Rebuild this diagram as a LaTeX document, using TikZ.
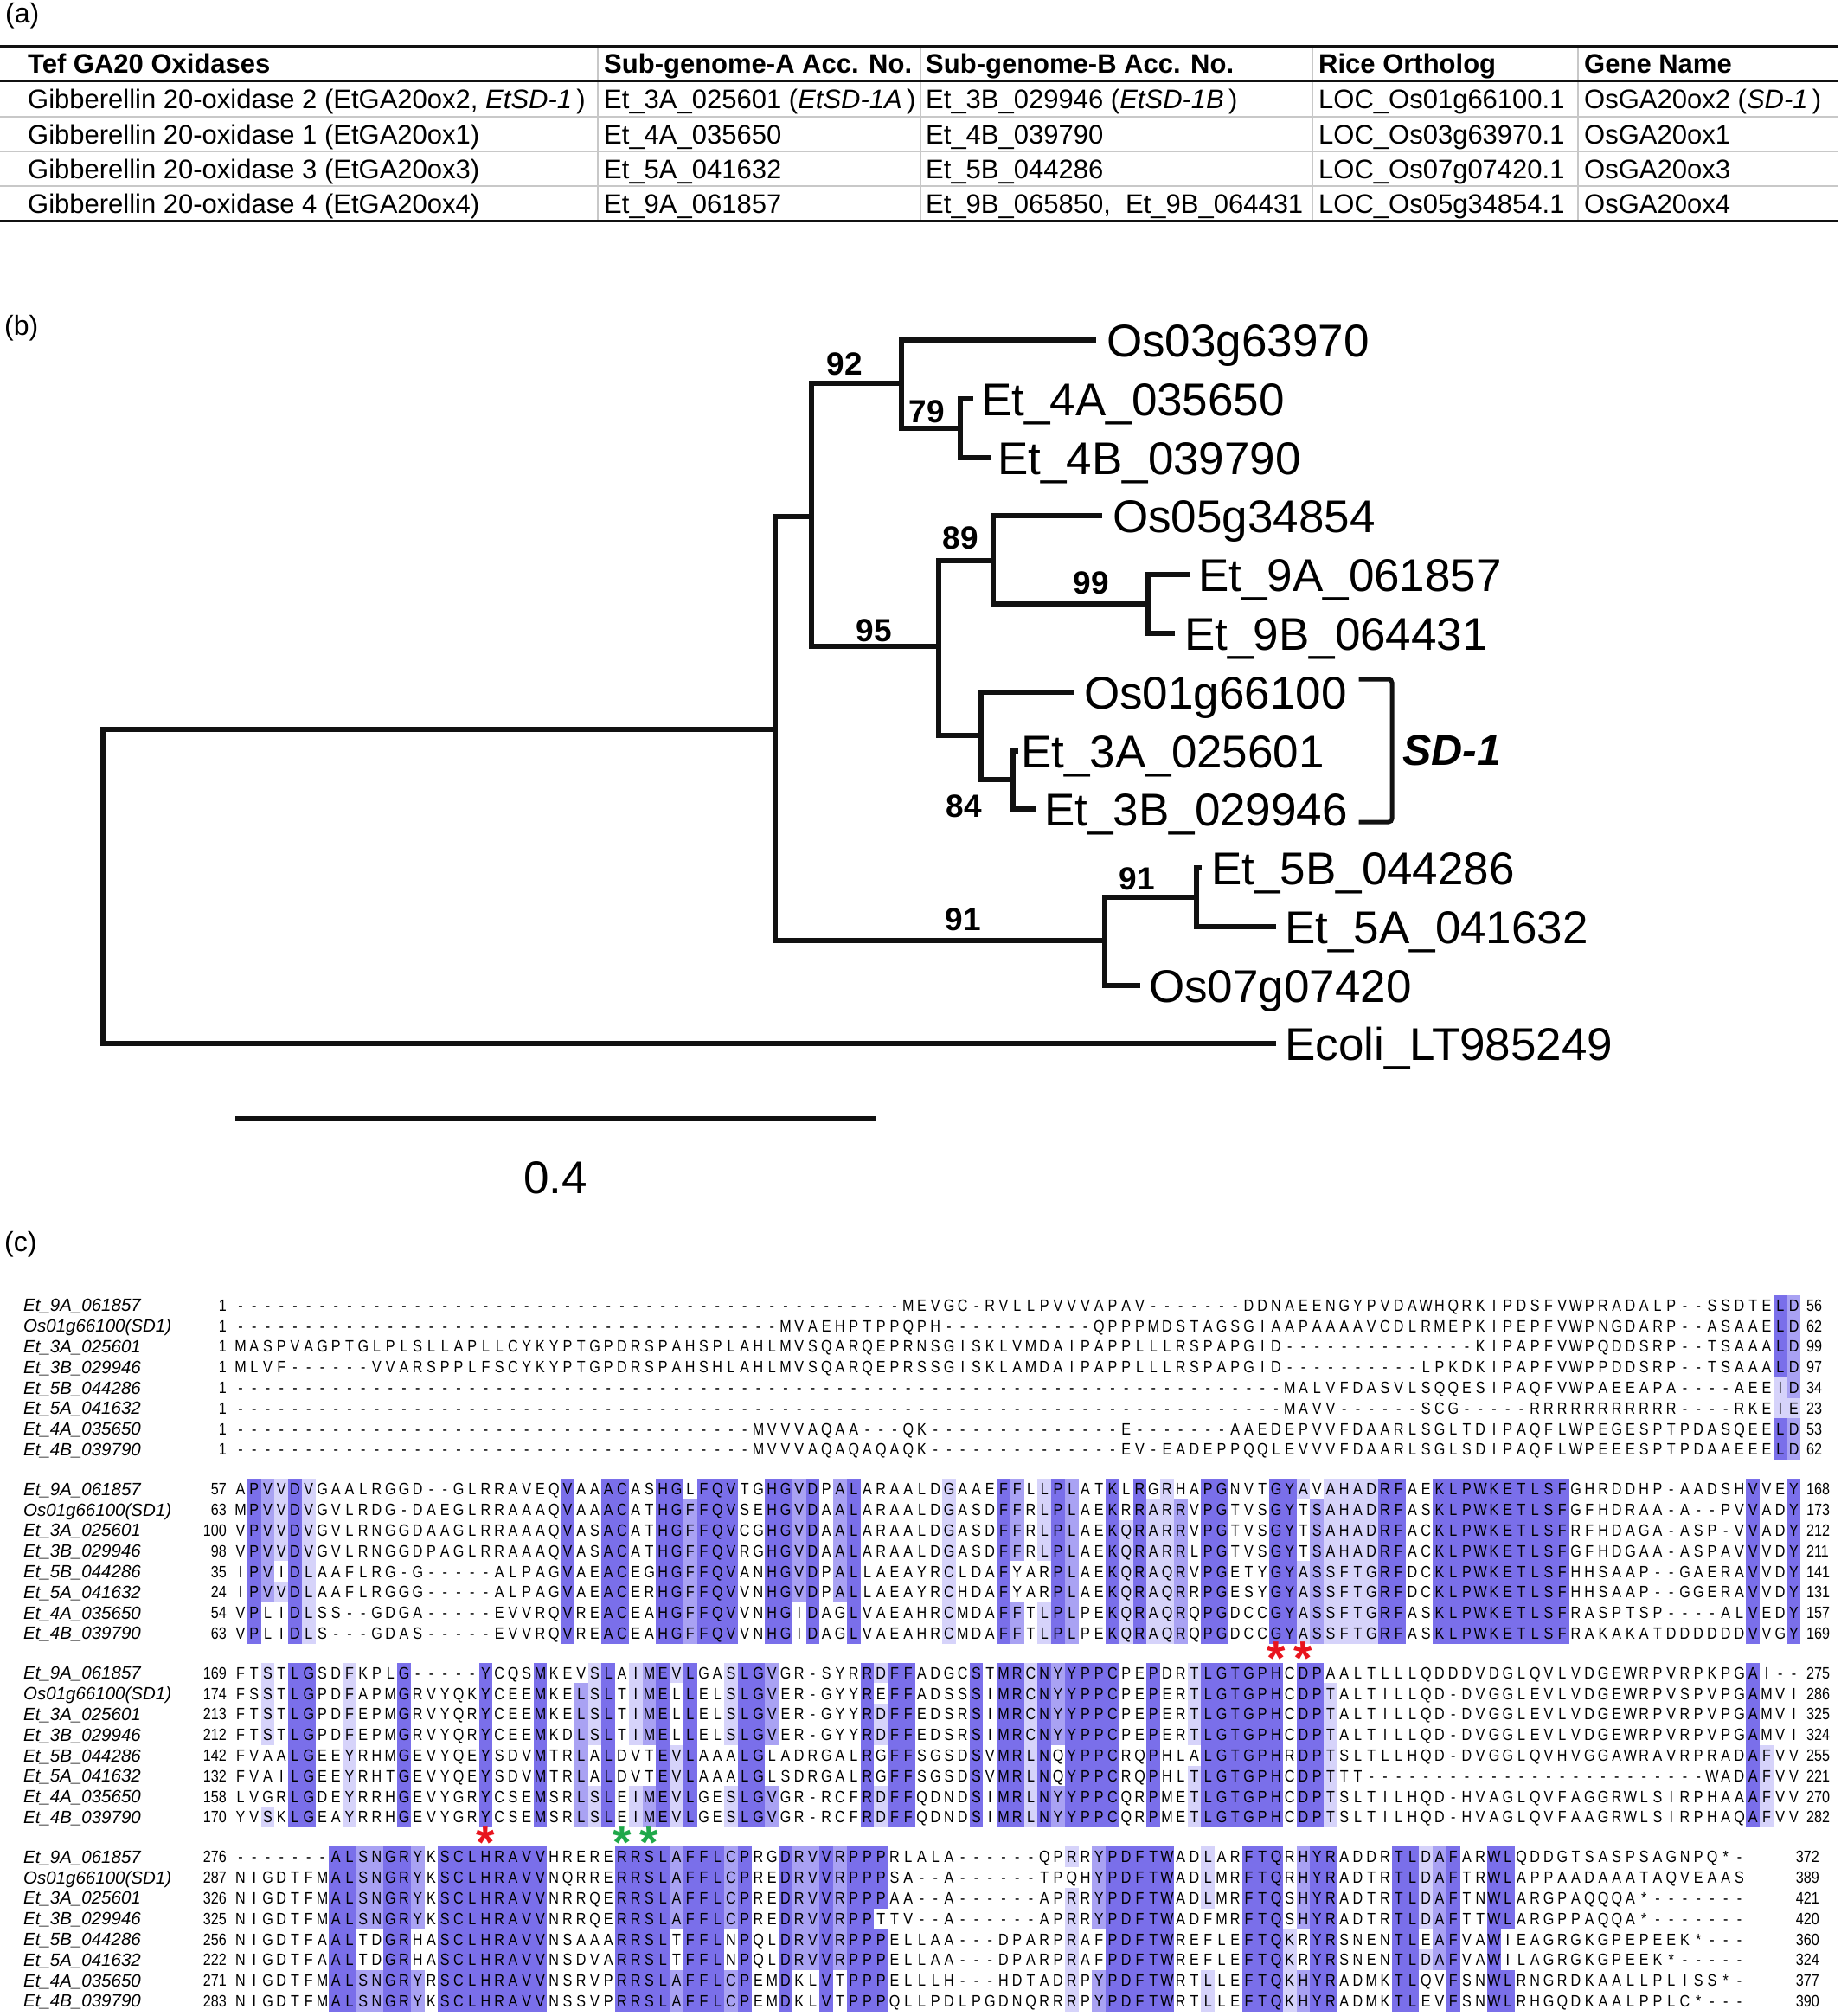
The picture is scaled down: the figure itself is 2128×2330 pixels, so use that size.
\documentclass[tikz,border=0pt]{standalone}
\usepackage{fontspec}
\setmainfont{Liberation Sans}
\newfontfamily\seqfont[FakeStretch=0.85]{Liberation Sans}
\usepackage{xcolor}
\usepackage{tikz}
\usetikzlibrary{positioning}
\definecolor{Ink}{HTML}{111111}
\definecolor{Rule}{HTML}{C8C8C8}
\definecolor{IdDk}{HTML}{7A6FEA}
\definecolor{IdMd}{HTML}{A9A2F3}
\definecolor{IdLt}{HTML}{D6D3FA}
\definecolor{StarRed}{HTML}{E8141E}
\definecolor{StarGreen}{HTML}{1FA84A}

% alignment: one fixed box per residue, shaded when listed below
\newlength\cw
\setlength\cw{15.75pt}
\newcount\colno
\def\gaps#1{\ifnum#1>0 -\expandafter\gaps\expandafter{\the\numexpr#1-1\relax}\fi}
\def\setshade#1#2#3#4{\expandafter\xdef\csname sh-#1-#2-#3\endcsname{#4}}
\def\seqline#1#2{\edef\blk{#1}\edef\seqtmp{#2}\colno=0
  \expandafter\seqloop\seqtmp\relax}
\def\seqloop#1{\ifx#1\relax\else\seqcell#1\expandafter\seqloop\fi}
\def\seqcell#1{\advance\colno by 1
  \ifcsname sh-\blk-\the\colno-#1\endcsname
    \edef\shc{\csname sh-\blk-\the\colno-#1\endcsname}%
    \rlap{\color{\shc}\vrule width\cw height18.7pt depth5.1pt}%
  \fi
  \hbox to\cw{\hss\vrule width0pt height18.7pt depth5.1pt#1\hss}}

% shaded residues: column/residue/colour
\foreach \col/\res/\lev in {114/L/IdDk,114/I/IdLt,115/D/IdMd,115/E/IdLt}
  {\setshade{1}{\col}{\res}{\lev}}
\foreach \col/\res/\lev in {2/P/IdDk,3/V/IdMd,4/V/IdLt,5/D/IdDk,6/V/IdLt,6/L/IdLt,
  25/V/IdDk,28/A/IdDk,29/C/IdDk,32/H/IdDk,33/G/IdDk,34/F/IdMd,35/F/IdDk,36/Q/IdDk,
  37/V/IdDk,40/H/IdDk,41/G/IdDk,42/V/IdMd,43/D/IdDk,45/A/IdMd,46/L/IdDk,53/G/IdLt,
  53/C/IdLt,57/F/IdDk,58/F/IdMd,60/L/IdLt,61/P/IdDk,62/L/IdMd,65/K/IdDk,66/Q/IdLt,
  67/R/IdDk,68/A/IdLt,69/R/IdLt,69/Q/IdLt,70/R/IdMd,72/P/IdDk,73/G/IdDk,77/G/IdDk,
  78/Y/IdDk,79/A/IdLt,80/S/IdMd,81/A/IdLt,81/S/IdLt,82/H/IdLt,82/F/IdLt,83/A/IdLt,
  83/T/IdLt,84/D/IdLt,84/G/IdLt,85/R/IdDk,86/F/IdDk,89/K/IdDk,90/L/IdDk,91/P/IdDk,
  92/W/IdDk,93/K/IdDk,94/E/IdDk,95/T/IdDk,96/L/IdDk,97/S/IdDk,98/F/IdDk,112/V/IdDk,
  115/Y/IdDk}
  {\setshade{2}{\col}{\res}{\lev}}
\foreach \col/\res/\lev in {3/S/IdLt,5/L/IdDk,6/G/IdDk,9/F/IdLt,9/Y/IdLt,13/G/IdDk,
  19/Y/IdDk,23/M/IdDk,26/L/IdMd,27/S/IdLt,28/L/IdDk,30/I/IdLt,31/M/IdMd,32/E/IdDk,
  33/V/IdLt,34/L/IdDk,37/S/IdLt,38/L/IdDk,39/G/IdDk,40/V/IdMd,47/R/IdDk,48/D/IdLt,
  49/F/IdDk,50/F/IdDk,55/S/IdDk,57/M/IdDk,58/R/IdDk,59/C/IdLt,59/L/IdLt,60/N/IdDk,
  61/Y/IdMd,62/Y/IdDk,63/P/IdDk,64/P/IdDk,65/C/IdDk,68/P/IdDk,71/T/IdLt,72/L/IdDk,
  73/G/IdDk,74/T/IdDk,75/G/IdDk,76/P/IdDk,77/H/IdDk,79/D/IdDk,80/P/IdDk,81/T/IdLt,
  112/A/IdDk,113/F/IdLt}
  {\setshade{3}{\col}{\res}{\lev}}
\foreach \col/\res/\lev in {8/A/IdDk,9/L/IdDk,10/S/IdMd,11/N/IdMd,12/G/IdDk,13/R/IdDk,
  14/Y/IdMd,16/S/IdDk,17/C/IdDk,18/L/IdDk,19/H/IdDk,20/R/IdDk,21/A/IdDk,22/V/IdDk,
  23/V/IdDk,29/R/IdDk,30/R/IdDk,31/S/IdDk,32/L/IdDk,33/A/IdMd,34/F/IdDk,35/F/IdDk,
  36/L/IdDk,37/C/IdMd,38/P/IdDk,41/D/IdDk,42/R/IdMd,43/V/IdMd,44/V/IdDk,45/R/IdMd,
  46/P/IdDk,47/P/IdDk,48/P/IdDk,62/R/IdLt,64/Y/IdMd,65/P/IdDk,66/D/IdDk,67/F/IdDk,
  68/T/IdDk,69/W/IdDk,72/L/IdLt,75/F/IdDk,76/T/IdDk,77/Q/IdDk,78/K/IdLt,79/H/IdMd,
  80/Y/IdDk,81/R/IdDk,86/T/IdDk,87/L/IdDk,88/D/IdLt,89/A/IdMd,90/F/IdDk,93/W/IdDk,
  94/L/IdDk}
  {\setshade{4}{\col}{\res}{\lev}}

\tikzset{
  panel/.style={anchor=west, inner sep=0pt, font=\fontsize{32}{38}\selectfont},
  tabhead/.style={anchor=west, inner sep=0pt, font=\bfseries\fontsize{31}{37}\selectfont,
    text height=22.2pt, text depth=0pt},
  tabcell/.style={anchor=west, inner sep=0pt, font=\fontsize{31}{37}\selectfont,
    text height=22.2pt, text depth=0pt},
  branch/.style={draw=Ink, line width=6pt, line cap=rect},
  leaf/.style={anchor=west, inner sep=0pt, font=\fontsize{53}{60}\selectfont,
    text height=38pt, text depth=0pt},
  boot/.style={inner sep=0pt, font=\bfseries\fontsize{37}{42}\selectfont,
    text height=26.5pt, text depth=0pt},
  sdlab/.style={anchor=west, inner sep=0pt, font=\bfseries\itshape\fontsize{50}{56}\selectfont,
    text height=35.8pt, text depth=0pt},
  seqrow/.style={anchor=west, inner sep=0pt, font=\seqfont\fontsize{19}{23}\selectfont},
  seqnum/.style={inner sep=0pt, font=\seqfont\fontsize{19}{23}\selectfont,
    text height=13.6pt, text depth=0pt},
  seqname/.style={anchor=west, inner sep=0pt, font=\itshape\fontsize{20.5}{24}\selectfont,
    text height=14.7pt, text depth=0pt},
  astk/.style={anchor=base, inner sep=0pt, font=\bfseries\fontsize{55}{60}\selectfont,
    text height=16pt, text depth=0pt}
}

\begin{document}
\begin{tikzpicture}[x=1pt, y=-1pt]
  \useasboundingbox (0,0) rectangle (2128,2330);

  % (a) table
  \node[panel] (pa) at (6,18) {(a)};
  \foreach \y in {135,175,215} \draw[Rule, line width=2pt] (0,\y) -- (2125,\y);
  \foreach \x in {691,1064,1517,1824} \draw[Rule, line width=2pt] (\x,55) -- (\x,254);
  \draw[Ink, line width=2.5pt] (0,53.5) -- (2125,53.5);
  \draw[Ink, line width=3pt] (0,93.6) -- (2125,93.6);
  \draw[Ink, line width=3.5pt] (0,255.6) -- (2125,255.6);
  \foreach \x/\t [count=\i] in {32/Tef GA20 Oxidases, 698/Sub-genome-A Acc. No.,
      1070/Sub-genome-B Acc. No., 1524/Rice Ortholog, 1831/Gene Name}
    \node[tabhead] (h\i) at (\x,73.5) {\t};
  \node[tabcell] (c11) at (32,114.5) {Gibberellin 20-oxidase 2 (EtGA20ox2, \textit{EtSD-1}\,)};
  \node[tabcell] (c12) at (698,114.5) {Et\_3A\_025601 (\textit{EtSD-1A}\,)};
  \node[tabcell] (c13) at (1070,114.5) {Et\_3B\_029946 (\textit{EtSD-1B}\,)};
  \node[tabcell] (c14) at (1524,114.5) {LOC\_Os01g66100.1};
  \node[tabcell] (c15) at (1831,114.5) {OsGA20ox2 (\textit{SD-1}\,)};
  \node[tabcell] (c21) at (32,155) {Gibberellin 20-oxidase 1 (EtGA20ox1)};
  \node[tabcell] (c22) at (698,155) {Et\_4A\_035650};
  \node[tabcell] (c23) at (1070,155) {Et\_4B\_039790};
  \node[tabcell] (c24) at (1524,155) {LOC\_Os03g63970.1};
  \node[tabcell] (c25) at (1831,155) {OsGA20ox1};
  \node[tabcell] (c31) at (32,195) {Gibberellin 20-oxidase 3 (EtGA20ox3)};
  \node[tabcell] (c32) at (698,195) {Et\_5A\_041632};
  \node[tabcell] (c33) at (1070,195) {Et\_5B\_044286};
  \node[tabcell] (c34) at (1524,195) {LOC\_Os07g07420.1};
  \node[tabcell] (c35) at (1831,195) {OsGA20ox3};
  \node[tabcell] (c41) at (32,235.5) {Gibberellin 20-oxidase 4 (EtGA20ox4)};
  \node[tabcell] (c42) at (698,235.5) {Et\_9A\_061857};
  \node[tabcell] (c43) at (1070,235.5) {Et\_9B\_065850,\ \ Et\_9B\_064431};
  \node[tabcell] (c44) at (1524,235.5) {LOC\_Os05g34854.1};
  \node[tabcell] (c45) at (1831,235.5) {OsGA20ox4};

  % (b) tree
  \node[panel] (pb) at (5,379) {(b)};
  \coordinate (nR) at (119,1000);
  \coordinate (nA) at (896,843);
  \coordinate (nB) at (938,597);
  \coordinate (nC) at (1042,443);
  \coordinate (nD) at (1110,495);
  \coordinate (nE) at (1085,747);
  \coordinate (nF) at (1148,648);
  \coordinate (nG) at (1327,698);
  \coordinate (nH) at (1134,850);
  \coordinate (nI) at (1171,901);
  \coordinate (nJ) at (1277,1087);
  \coordinate (nK) at (1383,1037);
  \coordinate (l1) at (1264,393);
  \coordinate (l2) at (1122,461);
  \coordinate (l3) at (1143,529);
  \coordinate (l4) at (1271,596);
  \coordinate (l5) at (1373,664);
  \coordinate (l6) at (1355,732);
  \coordinate (l7) at (1239,800);
  \coordinate (l8) at (1174,868);
  \coordinate (l9) at (1194,935);
  \coordinate (l10) at (1386,1003);
  \coordinate (l11) at (1472,1071);
  \coordinate (l12) at (1315,1139);
  \coordinate (l13) at (1472,1206);

  \draw[branch] (nA) -| (nR) |- (l13);
  \draw[branch] (nB) -| (nA) |- (nJ);
  \draw[branch] (nC) -| (nB) |- (nE);
  \draw[branch] (l1) -| (nC) |- (nD);
  \draw[branch] (l2) -| (nD) |- (l3);
  \draw[branch] (nF) -| (nE) |- (nH);
  \draw[branch] (l4) -| (nF) |- (nG);
  \draw[branch] (l5) -| (nG) |- (l6);
  \draw[branch] (l7) -| (nH) |- (nI);
  \draw[branch] (l8) -| (nI) |- (l9);
  \draw[branch] (nK) -| (nJ) |- (l12);
  \draw[branch] (l10) -| (nK) |- (l11);

  \node[leaf, right=15pt of l1] (t1) {Os03g63970};
  \node[leaf, right=12pt of l2] (t2) {Et\_4A\_035650};
  \node[leaf, right=10pt of l3] (t3) {Et\_4B\_039790};
  \node[leaf, right=15pt of l4] (t4) {Os05g34854};
  \node[leaf, right=12pt of l5] (t5) {Et\_9A\_061857};
  \node[leaf, right=14pt of l6] (t6) {Et\_9B\_064431};
  \node[leaf, right=14pt of l7] (t7) {Os01g66100};
  \node[leaf, right=6pt of l8] (t8) {Et\_3A\_025601};
  \node[leaf, right=13pt of l9] (t9) {Et\_3B\_029946};
  \node[leaf, right=14pt of l10] (t10) {Et\_5B\_044286};
  \node[leaf, right=13pt of l11] (t11) {Et\_5A\_041632};
  \node[leaf, right=13pt of l12] (t12) {Os07g07420};
  \node[leaf, right=13pt of l13] (t13) {Ecoli\_LT985249};

  \node[boot] (b92) at (976,420) {92};
  \node[boot] (b79) at (1071,475) {79};
  \node[boot] (b95) at (1010,728) {95};
  \node[boot] (b89) at (1110,621) {89};
  \node[boot] (b99) at (1261,673) {99};
  \node[boot] (b84) at (1114,931) {84};
  \node[boot] (b91a) at (1113,1062) {91};
  \node[boot] (b91b) at (1314,1015) {91};

  \coordinate (sd0) at (1573,785);
  \coordinate (sd1) at (1609,867);
  \coordinate (sd2) at (1573,950);
  \draw[branch, line width=5pt, rounded corners=4pt] (sd0) -| (sd1) |- (sd2);
  \node[sdlab, right=12pt of sd1] (sd) {SD-1};

  \coordinate (sb0) at (275,1293);
  \coordinate (sb1) at (1010,1293);
  \draw[branch] (sb0) -- (sb1);
  \node[leaf, anchor=center] (sbl) at (642,1360) {0.4};

  % (c) alignment
  \node[panel] (pc) at (5,1438) {(c)};
  \foreach \nm [count=\r] in {Et\_9A\_061857, Os01g66100(SD1), Et\_3A\_025601, Et\_3B\_029946,
      Et\_5B\_044286, Et\_5A\_041632, Et\_4A\_035650, Et\_4B\_039790}
    \foreach \b in {1,...,4}
      \node[seqname] (n\b-\r) at (27,{1508.5+(\b-1)*212.5+(\r-1)*23.8}) {\nm};

  \foreach \st/\sq/\en [count=\r] in {
    1/{\gaps{49}MEVGC-RVLLPVVVAPAV-------DDNAEENGYPVDAWHQRKIPDSFVWPRADALP--SSDTELD}/56,
    1/{\gaps{40}MVAEHPTPPQPH\gaps{11}QPPPMDSTAGSGIAAPAAAAVCDLRMEPKIPEPFVWPNGDARP--ASAAELD}/62,
    1/{MASPVAGPTGLPLSLLAPLLCYKYPTGPDRSPAHSPLAHLMVSQARQEPRNSGISKLVMDAIPAPPLLLRSPAPGID\gaps{14}KIPAPFVWPQDDSRP--TSAAALD}/99,
    1/{MLVF------VVARSPPLFSCYKYPTGPDRSPAHSHLAHLMVSQARQEPRSSGISKLAMDAIPAPPLLLRSPAPGID\gaps{10}LPKDKIPAPFVWPPDDSRP--TSAAALD}/97,
    1/{\gaps{77}MALVFDASVLSQQESIPAQFVWPAEEAPA----AEEID}/34,
    1/{\gaps{77}MAVV------SCG-----RRRRRRRRRRR----RKEIE}/23,
    1/{\gaps{38}MVVVAQAA---QK\gaps{14}E-------AAEDEPVVFDAARLSGLTDIPAQFLWPEGESPTPDASQEELD}/53,
    1/{\gaps{38}MVVVAQAQAQAQK\gaps{14}EV-EADEPPQQLEVVVFDAARLSGLSDIPAQFLWPEEESPTPDAAEEELD}/62}{
    \node[seqrow] (s1-\r) at (270,{1508.5+(\r-1)*23.8}) {\seqline{1}{\sq}};
    \node[seqnum, anchor=east] (a1-\r) at (262,{1508.5+(\r-1)*23.8}) {\st};
    \node[seqnum, anchor=west] (z1-\r) at (2088,{1508.5+(\r-1)*23.8}) {\en};
  }

  \foreach \st/\sq/\en [count=\r] in {
    57/{APVVDVGAALRGGD--GLRRAVEQVAAACASHGLFQVTGHGVDPALARAALDGAAEFFLLPLATKLRGRHAPGNVTGYAVAHADRFAEKLPWKETLSFGHRDDHP-AADSHVVEY}/168,
    63/{MPVVDVGVLRDG-DAEGLRRAAAQVAAACATHGFFQVSEHGVDAALARAALDGASDFFRLPLAEKRRARRVPGTVSGYTSAHADRFASKLPWKETLSFGFHDRAA-A--PVVADY}/173,
    100/{VPVVDVGVLRNGGDAAGLRRAAAQVASACATHGFFQVCGHGVDAALARAALDGASDFFRLPLAEKQRARRVPGTVSGYTSAHADRFACKLPWKETLSFRFHDAGA-ASP-VVADY}/212,
    98/{VPVVDVGVLRNGGDPAGLRRAAAQVASACATHGFFQVRGHGVDAALARAALDGASDFFRLPLAEKQRARRLPGTVSGYTSAHADRFACKLPWKETLSFGFHDGAA-ASPAVVVDY}/211,
    35/{IPVIDLAAFLRG-G-----ALPAGVAEACEGHGFFQVANHGVDPALLAEAYRCLDAFYARPLAEKQRAQRVPGETYGYASSFTGRFDCKLPWKETLSFHHSAAP--GAERAVVDY}/141,
    24/{IPVVDLAAFLRGGG-----ALPAGVAEACERHGFFQVVNHGVDPALLAEAYRCHDAFYARPLAEKQRAQRRPGESYGYASSFTGRFDCKLPWKETLSFHHSAAP--GGERAVVDY}/131,
    54/{VPLIDLSS--GDGA-----EVVRQVREACEAHGFFQVVNHGIDAGLVAEAHRCMDAFFTLPLPEKQRAQRQPGDCCGYASSFTGRFASKLPWKETLSFRASPTSP----ALVEDY}/157,
    63/{VPLIDLS---GDAS-----EVVRQVREACEAHGFFQVVNHGIDAGLVAEAHRCMDAFFTLPLPEKQRAQRQPGDCCGYASSFTGRFASKLPWKETLSFRAKAKATDDDDDDVVGY}/169}{
    \node[seqrow] (s2-\r) at (270,{1721+(\r-1)*23.8}) {\seqline{2}{\sq}};
    \node[seqnum, anchor=east] (a2-\r) at (262,{1721+(\r-1)*23.8}) {\st};
    \node[seqnum, anchor=west] (z2-\r) at (2088,{1721+(\r-1)*23.8}) {\en};
  }

  \foreach \st/\sq/\en [count=\r] in {
    169/{FTSTLGSDFKPLG-----YCQSMKEVSLAIMEVLGASLGVGR-SYRRDFFADGCSTMRCNYYPPCPEPDRTLGTGPHCDPAALTLLLQDDDVDGLQVLVDGEWRPVRPKPGAI--}/275,
    174/{FSSTLGPDFAPMGRVYQKYCEEMKELSLTIMELLELSLGVER-GYYREFFADSSSIMRCNYYPPCPEPERTLGTGPHCDPTALTILLQD-DVGGLEVLVDGEWRPVSPVPGAMVI}/286,
    213/{FTSTLGPDFEPMGRVYQRYCEEMKELSLTIMELLELSLGVER-GYYRDFFEDSRSIMRCNYYPPCPEPERTLGTGPHCDPTALTILLQD-DVGGLEVLVDGEWRPVRPVPGAMVI}/325,
    212/{FTSTLGPDFEPMGRVYQRYCEEMKDLSLTIMELLELSLGVER-GYYRDFFEDSRSIMRCNYYPPCPEPERTLGTGPHCDPTALTILLQD-DVGGLEVLVDGEWRPVRPVPGAMVI}/324,
    142/{FVAALGEEYRHMGEVYQEYSDVMTRLALDVTEVLAAALGLADRGALRGFFSGSDSVMRLNQYPPCRQPHLALGTGPHRDPTSLTLLHQD-DVGGLQVHVGGAWRAVRPRADAFVV}/255,
    132/{FVAILGEEYRHTGEVYQEYSDVMTRLALDVTEVLAAALGLSDRGALRGFFSGSDSVMRLNQYPPCRQPHLTLGTGPHCDPTTT\gaps{25}WADAFVV}/221,
    158/{LVGRLGDEYRRHGEVYGRYCSEMSRLSLEIMEVLGESLGVGR-RCFRDFFQDNDSIMRLNYYPPCQRPMETLGTGPHCDPTSLTILHQD-HVAGLQVFAGGRWLSIRPHAAAFVV}/270,
    170/{YVSKLGEAYRRHGEVYGRYCSEMSRLSLEIMEVLGESLGVGR-RCFRDFFQDNDSIMRLNYYPPCQRPMETLGTGPHCDPTSLTILHQD-HVAGLQVFAAGRWLSIRPHAQAFVV}/282}{
    \node[seqrow] (s3-\r) at (270,{1933.5+(\r-1)*23.8}) {\seqline{3}{\sq}};
    \node[seqnum, anchor=east] (a3-\r) at (262,{1933.5+(\r-1)*23.8}) {\st};
    \node[seqnum, anchor=west] (z3-\r) at (2088,{1933.5+(\r-1)*23.8}) {\en};
  }

  \foreach \st/\sq/\en [count=\r] in {
    276/{\gaps{7}ALSNGRYKSCLHRAVVHRERERRSLAFFLCPRGDRVVRPPPRLALA------QPRRYPDFTWADLARFTQRHYRADDRTLDAFARWLQDDGTSASPSAGNPQ*-}/372,
    287/{NIGDTFMALSNGRYKSCLHRAVVNQRRERRSLAFFLCPREDRVVRPPPSA--A------TPQHYPDFTWADLMRFTQRHYRADTRTLDAFTRWLAPPAADAAATAQVEAAS}/389,
    326/{NIGDTFMALSNGRYKSCLHRAVVNRRQERRSLAFFLCPREDRVVRPPPAA--A------APRRYPDFTWADLMRFTQSHYRADTRTLDAFTNWLARGPAQQQA*-------}/421,
    325/{NIGDTFMALSNGRYKSCLHRAVVNRRQERRSLAFFLCPREDRVVRPPTTV--A------APRRYPDFTWADFMRFTQSHYRADTRTLDAFTTWLARGPPAQQA*-------}/420,
    256/{NIGDTFAALTDGRHASCLHRAVVNSAAARRSLTFFLNPQLDRVVRPPPELLAA---DPARPRAFPDFTWREFLEFTQKRYRSNENTLEAFVAWIEAGRGKGPEPEEK*---}/360,
    222/{NIGDTFAALTDGRHASCLHRAVVNSDVARRSLTFFLNPQLDRVVRPPPELLAA---DPARPRAFPDFTWREFLEFTQKRYRSNENTLDAFVAWILAGRGKGPEEK*-----}/324,
    271/{NIGDTFMALSNGRYRSCLHRAVVNSRVPRRSLAFFLCPEMDKLVTPPPELLLH---HDTADRPYPDFTWRTLLEFTQKHYRADMKTLQVFSNWLRNGRDKAALLPLISS*-}/377,
    283/{NIGDTFMALSNGRYKSCLHRAVVNSSVPRRSLAFFLCPEMDKLVTPPPQLLPDLPGDNQRRRPYPDFTWRTLLEFTQKHYRADMKTLEVFSNWLRHGQDKAALPPLC*---}/390}{
    \node[seqrow] (s4-\r) at (270,{2146+(\r-1)*23.8}) {\seqline{4}{\sq}};
    \node[seqnum, anchor=east] (a4-\r) at (262,{2146+(\r-1)*23.8}) {\st};
    \node[seqnum, anchor=east] (z4-\r) at (2103,{2146+(\r-1)*23.8}) {\en};
  }

  % conserved sites
  \node[astk, text=StarRed] (k1) at (1474.9,1918) {\raisebox{-17pt}{*}};
  \node[astk, text=StarRed] (k2) at (1506.4,1918) {\raisebox{-17pt}{*}};
  \node[astk, text=StarRed] (k3) at (561.4,2131) {\raisebox{-17pt}{*}};
  \node[astk, text=StarGreen] (k4) at (718.9,2131) {\raisebox{-17pt}{*}};
  \node[astk, text=StarGreen] (k5) at (750.4,2131) {\raisebox{-17pt}{*}};
\end{tikzpicture}
\end{document}
